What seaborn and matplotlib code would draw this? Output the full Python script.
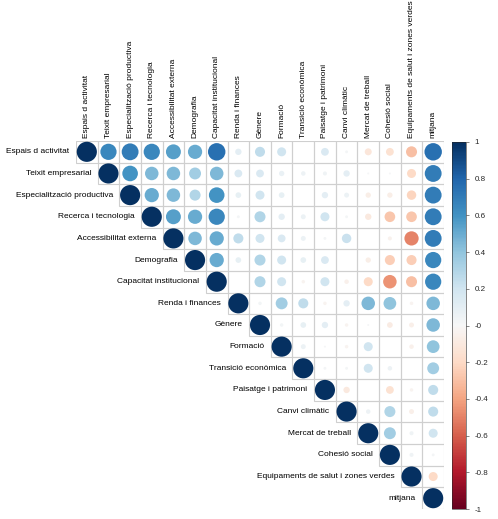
import numpy as np
import pandas as pd
import matplotlib
matplotlib.use("Agg")
import matplotlib.pyplot as plt
import seaborn as sns
from matplotlib.patches import Rectangle
from matplotlib.colors import Normalize
from matplotlib.cm import ScalarMappable

sns.set_style("white")
plt.rcParams["font.family"] = ["Liberation Sans", "DejaVu Sans"]

labels = ["Espais d activitat", "Teixit empresarial", "Especialització productiva",
          "Recerca i tecnologia", "Accessibilitat externa", "Demografia",
          "Capacitat institucional", "Renda i finances", "Gènere", "Formació",
          "Transició econòmica", "Paisatge i patrimoni", "Canvi climàtic",
          "Mercat de treball", "Cohesió social", "Equipaments de salut i zones verdes",
          "mitjana"]

# upper triangle, each row starts at the diagonal
corr_upper = [
    [1, 0.65, 0.70, 0.65, 0.55, 0.50, 0.75, 0.10, 0.25, 0.20, 0.00, 0.15, 0.02, -0.12, -0.15, -0.30, 0.75],
    [1, 0.60, 0.45, 0.45, 0.35, 0.45, 0.15, 0.15, 0.07, 0.05, 0.04, 0.10, 0.01, 0.01, -0.20, 0.70],
    [1, 0.50, 0.45, 0.30, 0.60, 0.08, 0.20, 0.08, 0.00, 0.10, 0.06, -0.07, -0.07, -0.22, 0.70],
    [1, 0.55, 0.50, 0.65, 0.02, 0.30, 0.10, 0.06, 0.20, 0.02, -0.10, -0.28, -0.28, 0.70],
    [1, 0.45, 0.50, 0.25, 0.20, 0.15, 0.06, 0.02, 0.22, 0.00, -0.04, -0.50, 0.70],
    [1, 0.50, 0.08, 0.30, 0.20, 0.08, 0.15, 0.00, -0.07, -0.25, -0.25, 0.65],
    [1, 0.00, 0.30, 0.20, -0.03, 0.20, -0.05, -0.20, -0.45, -0.30, 0.65],
    [1, 0.03, 0.35, 0.25, -0.03, 0.10, 0.45, 0.40, -0.03, 0.45],
    [1, 0.03, 0.08, 0.10, -0.03, 0.01, -0.08, -0.06, 0.45],
    [1, 0.06, 0.01, -0.03, 0.20, 0.00, -0.05, 0.40],
    [1, 0.02, 0.02, 0.20, 0.05, 0.00, 0.35],
    [1, -0.10, 0.00, -0.15, -0.03, 0.25],
    [1, 0.05, 0.30, -0.06, 0.25],
    [1, 0.35, 0.04, 0.20],
    [1, 0.04, 0.02],
    [1, -0.20],
    [1],
]

n = len(labels)
rows = []
for i, vals in enumerate(corr_upper):
    for k, v in enumerate(vals):
        rows.append({"row": i, "col": i + k, "r": v, "size": abs(v)})
df = pd.DataFrame(rows)

W, H = 498, 519
fig = plt.figure(figsize=(W / 100, H / 100), dpi=100)
gl, gr, gt, gb = 76, 444, 141, 509
ax = fig.add_axes([gl / W, 1 - gb / H, (gr - gl) / W, (gb - gt) / H])

cell_pt = (gr - gl) / n * 72 / 100
max_s = (cell_pt * 0.93) ** 2

for i in range(n):
    for j in range(i, n):
        ax.add_patch(Rectangle((j - 0.5, i - 0.5), 1, 1, fill=False,
                               edgecolor="#cfcfcf", linewidth=0.8, zorder=1))

sns.scatterplot(data=df, x="col", y="row", hue="r", size="size",
                palette="RdBu", hue_norm=(-1, 1), sizes=(0, max_s),
                size_norm=(0, 1), linewidth=0, legend=False, ax=ax, zorder=3)

ax.set_xlim(-0.5, n - 0.5)
ax.set_ylim(n - 0.5, -0.5)
ax.axis("off")

fs = 6.0
for i, lab in enumerate(labels):
    ax.text(i - 0.5 - 0.3, i, lab, ha="right", va="center", fontsize=fs, color="black")
    ax.text(i, -0.5 - 0.12, lab, ha="center", va="bottom", rotation=90, fontsize=fs, color="black")

cax = fig.add_axes([452 / W, 1 - 509 / H, 14 / W, 367 / H])
sm = ScalarMappable(norm=Normalize(-1, 1), cmap="RdBu")
cb = fig.colorbar(sm, cax=cax)
ticks = np.round(np.arange(-1, 1.01, 0.2), 1)
cb.set_ticks(ticks)
cb.set_ticklabels([f"{t:g}" for t in ticks])
cb.ax.tick_params(labelsize=5.8, length=2, width=0.5, color="#555555", pad=4)
cb.outline.set_linewidth(0.4)

fig.savefig("out.png", dpi=100)
